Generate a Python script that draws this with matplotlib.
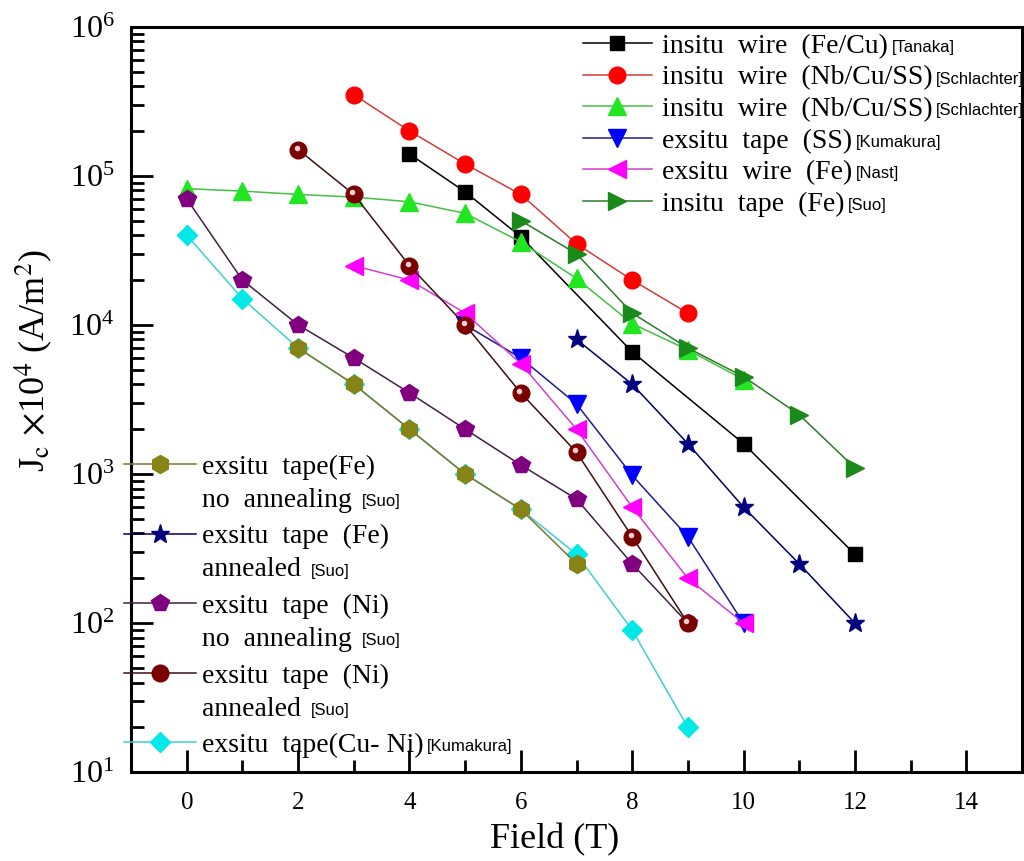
import matplotlib
matplotlib.use('Agg')
import matplotlib.pyplot as plt
import matplotlib.transforms as mtransforms
from matplotlib.ticker import MultipleLocator, LogLocator, NullFormatter
import numpy as np

plt.rcParams['font.family'] = ['Liberation Serif', 'DejaVu Serif']
plt.rcParams['mathtext.fontset'] = 'stix'

# ~~~~~~~~~~~~ Jc(B) data, field in T, Jc in units of 1e4 A/m^2 ~~~~~~~~~~~~
fecu_wire_B = [4, 5, 6, 8, 10, 12]
fecu_wire_Jc = [1.4e5, 7.8e4, 3.9e4, 6.6e3, 1.6e3, 2.9e2]

nb_wire_red_B = [3, 4, 5, 6, 7, 8, 9]
nb_wire_red_Jc = [3.5e5, 2.0e5, 1.2e5, 7.5e4, 3.5e4, 2.0e4, 1.2e4]

nb_wire_green_B = [0, 1, 2, 3, 4, 5, 6, 7, 8, 9, 10]
nb_wire_green_Jc = [8.2e4, 7.9e4, 7.5e4, 7.2e4, 6.7e4, 5.6e4, 3.6e4, 2.05e4, 1.02e4, 6.8e3, 4.3e3]

ss_tape_B = [5, 6, 7, 8, 9, 10]
ss_tape_Jc = [1.0e4, 6.0e3, 2.95e3, 9.8e2, 3.8e2, 1.0e2]

nast_wire_B = [3, 4, 5, 6, 7, 8, 9, 10]
nast_wire_Jc = [2.5e4, 2.0e4, 1.2e4, 5.5e3, 2.0e3, 6.0e2, 2.0e2, 1.0e2]

fe_insitu_tape_B = [6, 7, 8, 9, 10, 11, 12]
fe_insitu_tape_Jc = [5.0e4, 3.0e4, 1.2e4, 7.0e3, 4.5e3, 2.5e3, 1.1e3]

fe_tape_noann_B = [2, 3, 4, 5, 6, 7]
fe_tape_noann_Jc = [7.0e3, 4.0e3, 2.0e3, 1.0e3, 5.8e2, 2.5e2]

fe_tape_ann_B = [7, 8, 9, 10, 11, 12]
fe_tape_ann_Jc = [8.0e3, 4.0e3, 1.6e3, 6.0e2, 2.5e2, 1.0e2]

ni_tape_noann_B = [0, 1, 2, 3, 4, 5, 6, 7, 8, 9]
ni_tape_noann_Jc = [7.0e4, 2.0e4, 1.0e4, 6.0e3, 3.5e3, 2.0e3, 1.15e3, 6.8e2, 2.5e2, 1.0e2]

ni_tape_ann_B = [2, 3, 4, 5, 6, 7, 8, 9]
ni_tape_ann_Jc = [1.5e5, 7.5e4, 2.5e4, 1.0e4, 3.5e3, 1.4e3, 3.8e2, 1.0e2]

cuni_tape_B = [0, 1, 2, 3, 4, 5, 6, 7, 8, 9]
cuni_tape_Jc = [4.0e4, 1.5e4, 7.0e3, 4.0e3, 2.0e3, 1.0e3, 5.8e2, 2.9e2, 9.0e1, 2.0e1]

# legend texts
upper_labels = ['insitu  wire  (Fe/Cu)', 'insitu  wire  (Nb/Cu/SS)', 'insitu  wire  (Nb/Cu/SS)',
                'exsitu  tape  (SS)', 'exsitu  wire  (Fe)', 'insitu  tape  (Fe)']
upper_refs = ['[Tanaka]', '[Schlachter]', '[Schlachter]', '[Kumakura]', '[Nast]', '[Suo]']
lower_labels = ['exsitu  tape(Fe)', 'exsitu  tape  (Fe)', 'exsitu  tape  (Ni)',
                'exsitu  tape  (Ni)', 'exsitu  tape(Cu- Ni)']
lower_second = ['no  annealing', 'annealed', 'no  annealing', 'annealed', '']
lower_refs = ['[Suo]', '[Suo]', '[Suo]', '[Suo]', '[Kumakura]']

fig = plt.figure(figsize=(10.24, 8.61), dpi=100)
ax = fig.add_axes([0.128, 0.103, 0.870, 0.866])

def curve(B, Jc, marker, mfc, lc, ms, **kw):
    return ax.plot(B, Jc, marker=marker, color=lc, mfc=mfc, mec=mfc, ms=ms, lw=1.1, **kw)[0]

# upper legend group
h1 = curve(fecu_wire_B, fecu_wire_Jc, 's', 'black', 'black', 10)
h2 = curve(nb_wire_red_B, nb_wire_red_Jc, 'o', '#ff0000', '#d23c3c', 12)
h3 = curve(nb_wire_green_B, nb_wire_green_Jc, '^', '#22e622', '#44c044', 13)
h4 = curve(ss_tape_B, ss_tape_Jc, 'v', '#0000ff', '#1c1c8c', 13)
h5 = curve(nast_wire_B, nast_wire_Jc, '<', '#ff00ff', '#d040d0', 13)
h6 = curve(fe_insitu_tape_B, fe_insitu_tape_Jc, '>', '#1a8a1a', '#2a7a2a', 13)

# lower legend group (Cu-Ni drawn first so the olive points sit on top)
h11 = curve(cuni_tape_B, cuni_tape_Jc, 'D', '#00e8e8', '#40d0d0', 10)
h7 = curve(fe_tape_noann_B, fe_tape_noann_Jc, 'h', '#868416', '#77772e', 13)
h8 = curve(fe_tape_ann_B, fe_tape_ann_Jc, '*', '#000080', '#000060', 14)
h9 = curve(ni_tape_noann_B, ni_tape_noann_Jc, 'p', '#800080', '#402040', 13)
h10 = curve(ni_tape_ann_B, ni_tape_ann_Jc, 'o', '#7a0000', '#3a1010', 12)
# shine on the annealed Ni points
shine = mtransforms.offset_copy(ax.transData, fig=fig, x=-1.5, y=2.0, units='dots')
ax.plot(ni_tape_ann_B, ni_tape_ann_Jc, ls='none', marker='o', ms=4,
        mfc='#f4d0d0', mec='none', transform=shine)

ax.set_yscale('log')
ax.set_xlim(-1, 15)
ax.set_ylim(10, 1e6)
ax.xaxis.set_major_locator(MultipleLocator(2))
ax.xaxis.set_minor_locator(MultipleLocator(1))
ax.yaxis.set_minor_locator(LogLocator(base=10, subs=np.arange(2, 10)))
ax.yaxis.set_minor_formatter(NullFormatter())
ax.tick_params(which='both', direction='in', top=False, right=False, width=2)
ax.tick_params(which='major', length=16)
ax.tick_params(which='minor', length=9)
ax.tick_params(axis='x', labelsize=18, pad=14)
ax.tick_params(axis='y', labelsize=23, pad=12)
for sp in ax.spines.values():
    sp.set_linewidth(2.2)

ax.set_xlabel('Field (T)', fontsize=26)
ax.xaxis.set_label_coords(0.475, -0.068)
ax.set_ylabel(r'J$_\mathrm{c}$ $\times$10$^4$ (A/m$^2$)', fontsize=26)
ax.yaxis.set_label_coords(-0.085, 0.552)

leg1 = ax.legend([h1, h2, h3, h4, h5, h6], upper_labels, loc='upper left',
                 bbox_to_anchor=(0.507, 0.991), frameon=False, fontsize=20,
                 handlelength=2.48, handletextpad=0.36, labelspacing=0.22,
                 borderaxespad=0.0, borderpad=0.0)
ax.add_artist(leg1)
leg2 = ax.legend([h7, h8, h9, h10, h11], lower_labels, loc='lower left',
                 bbox_to_anchor=(-0.008, 0.019), frameon=False, fontsize=20,
                 handlelength=2.6, handletextpad=0.2, labelspacing=1.59,
                 borderaxespad=0.0, borderpad=0.0)

# reference tags and second lines placed after the legend text is laid out
fig.canvas.draw()
renderer = fig.canvas.get_renderer()
ident = mtransforms.IdentityTransform()
ref_font = dict(family=['Liberation Sans Narrow', 'Liberation Sans', 'DejaVu Sans'], fontsize=12)

for t, ref in zip(leg1.get_texts(), upper_refs):
    bb = t.get_window_extent(renderer)
    fig.text(bb.x1 + 4, bb.y0 + 0.45 * bb.height, ref, transform=ident,
             va='center', ha='left', **ref_font)

line_gap = 33
for t, second, ref in zip(leg2.get_texts(), lower_second, lower_refs):
    bb = t.get_window_extent(renderer)
    if second:
        t2 = fig.text(bb.x0, bb.y0 - line_gap, second, transform=ident,
                      va='bottom', ha='left', fontsize=20)
        bb2 = t2.get_window_extent(renderer)
        fig.text(bb2.x1 + 10, bb2.y0 + 0.45 * bb2.height, ref, transform=ident,
                 va='center', ha='left', **ref_font)
    else:
        fig.text(bb.x1 + 4, bb.y0 + 0.45 * bb.height, ref, transform=ident,
                 va='center', ha='left', **ref_font)

fig.savefig('out.png', dpi=100)
